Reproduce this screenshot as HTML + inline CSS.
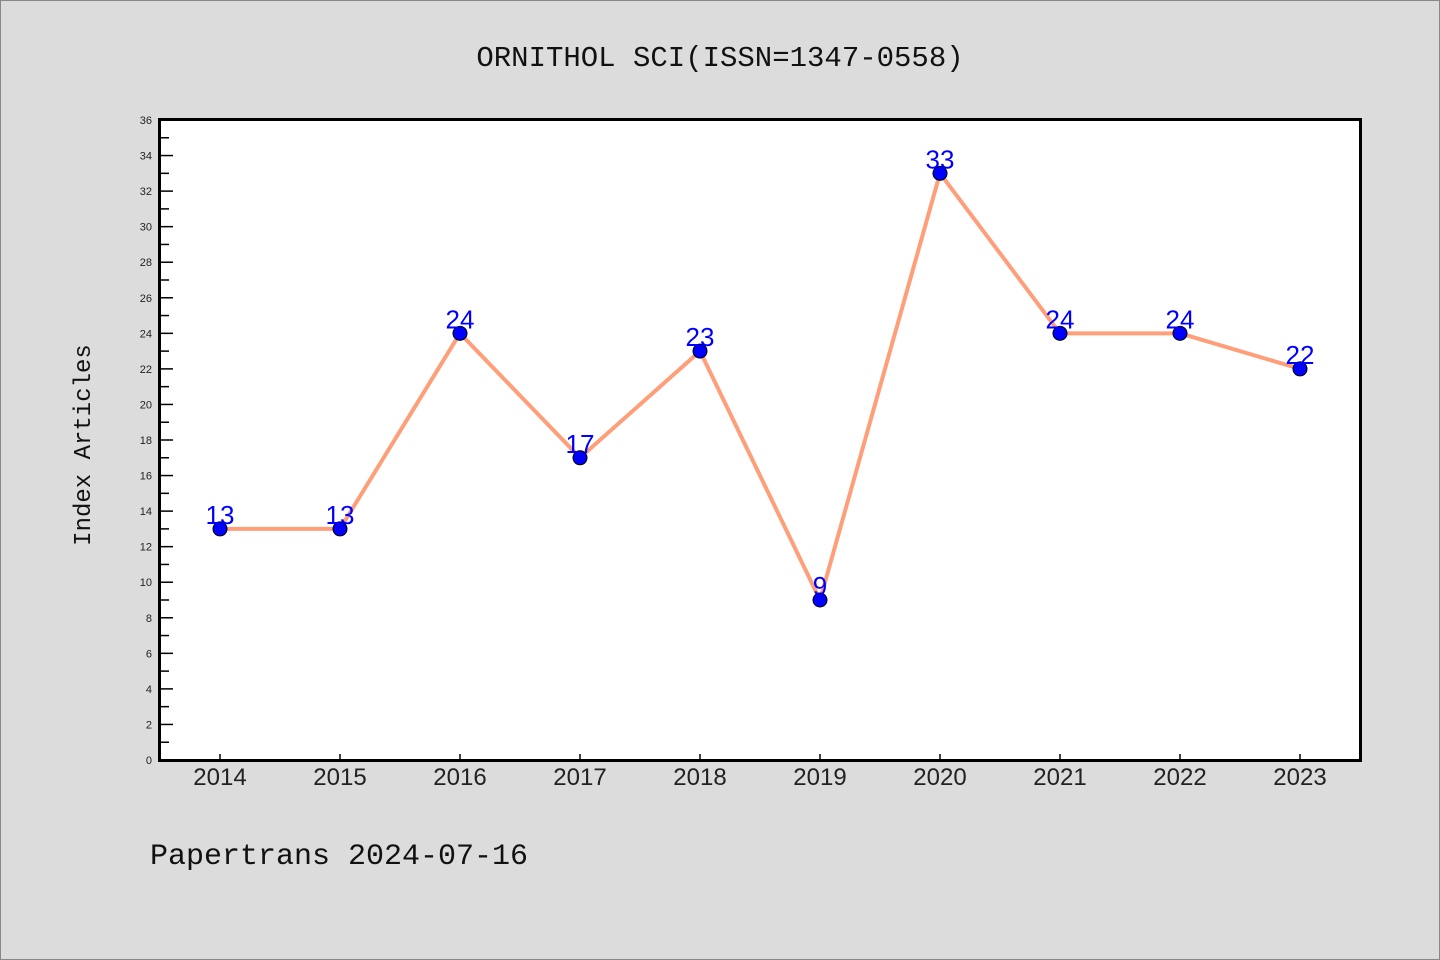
<!DOCTYPE html>
<html><head><meta charset="utf-8"><style>
html,body{margin:0;padding:0;background:#dcdcdc;}
svg{display:block;font-family:"Liberation Mono","DejaVu Sans Mono",monospace;}
</style></head><body>
<svg id="chart" width="1440" height="960" viewBox="0 0 1440 960">
<rect x="0.5" y="0.5" width="1439" height="959" fill="#dcdcdc" stroke="#888"/>
<text x="720" y="66" text-anchor="middle" font-size="29" fill="#111">ORNITHOL SCI(ISSN=1347-0558)</text>
<rect x="159.5" y="119.5" width="1201" height="641" fill="#fff"/>
<g id="yaxis"></g>
<g id="xaxis"></g>
<g id="series"></g>
<rect x="159.5" y="119.5" width="1201" height="641" fill="none" stroke="#000" stroke-width="3"/>
<text x="90" y="445" text-anchor="middle" font-size="24" fill="#111" transform="rotate(-90 90 445)">Index Articles</text>
<text x="150" y="864" font-size="30" fill="#111">Papertrans 2024-07-16</text>
</svg>
<script>
const categories=["2014","2015","2016","2017","2018","2019","2020","2021","2022","2023"];
const values=[13,13,24,17,23,9,33,24,24,22];
const yTicks=[0,2,4,6,8,10,12,14,16,18,20,22,24,26,28,30,32,34,36];
const NS="http://www.w3.org/2000/svg";
const x0=220,dx=120,yTop=120,yBot=760,yMax=36;
function xs(i){return x0+i*dx;}
function ys(v){return yBot-(v/yMax)*(yBot-yTop);}
function mk(tag,attrs,parent){const e=document.createElementNS(NS,tag);for(const k in attrs)e.setAttribute(k,attrs[k]);parent.appendChild(e);return e;}
const ya=document.getElementById('yaxis'),xa=document.getElementById('xaxis'),se=document.getElementById('series');
for(let v=0;v<=yMax;v++){
  const major=v%2===0;
  const t=mk('line',{x1:160,x2:160+(major?13:9),y1:ys(v),y2:ys(v),stroke:'#000','stroke-width':1.5},ya);
  
  
}
yTicks.forEach(v=>{
  const t=mk('text',{x:152,y:ys(v)+4,'text-anchor':'end','font-size':11,fill:'#222','font-family':'Liberation Sans, sans-serif'},ya);
  t.textContent=v;
  
  
});
categories.forEach((c,i)=>{
  const l=mk('line',{x1:xs(i),x2:xs(i),y1:760,y2:754,stroke:'#000','stroke-width':1.5},xa);
  
  
  const t=mk('text',{x:xs(i),y:785,'text-anchor':'middle','font-size':24,fill:'#222','font-family':'Liberation Sans, sans-serif'},xa);
  t.textContent=c;
  
  
});
const pts=values.map((v,i)=>xs(i)+','+ys(v)).join(' ');
const pl=mk('polyline',{points:pts,fill:'none',stroke:'#ff9f7a','stroke-width':4,'stroke-linejoin':'round'},se);


values.forEach((v,i)=>{
  const c=mk('circle',{cx:xs(i),cy:ys(v),r:7,fill:'#0000ff',stroke:'#000','stroke-width':1},se);
  
  
  const t=mk('text',{x:xs(i),y:ys(v)-5,'text-anchor':'middle','font-size':26,fill:'#0000ff','font-family':'Liberation Sans, sans-serif'},se);
  t.textContent=v;
  
  
});
</script>
</body></html>
